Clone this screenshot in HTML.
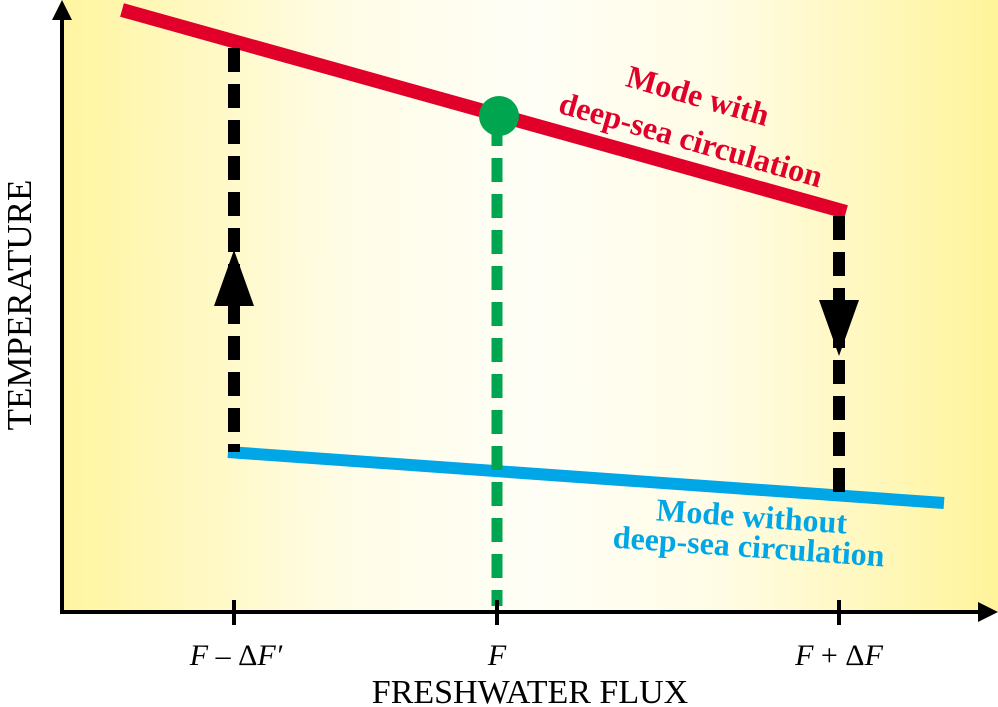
<!DOCTYPE html>
<html><head><style>body{margin:0;background:#fff}svg{display:block}</style></head><body>
<svg width="998" height="707" xmlns="http://www.w3.org/2000/svg">
<defs><linearGradient id="g" x1="0" x2="1"><stop offset="0" stop-color="#fff5a0"/><stop offset="0.3" stop-color="#fffce6"/><stop offset="0.5" stop-color="#fffef6"/><stop offset="0.7" stop-color="#fffce6"/><stop offset="1" stop-color="#fff49a"/></linearGradient></defs>
<rect x="62" y="0" width="936" height="612" fill="url(#g)"/>
<line x1="122" y1="10" x2="846" y2="212" stroke="#e0002a" stroke-width="14"/>
<line x1="228" y1="452" x2="944" y2="503" stroke="#00a6e6" stroke-width="12"/>
<line x1="234" y1="48" x2="234" y2="452" stroke="#000" stroke-width="12" stroke-dasharray="24,12"/>
<polygon points="234,250 254,306 214,306" fill="#000"/>
<line x1="839" y1="216" x2="839" y2="492" stroke="#000" stroke-width="12" stroke-dasharray="24,12"/>
<polygon points="839,356 819,300 859,300" fill="#000"/>
<line x1="497" y1="122" x2="497" y2="606" stroke="#00a550" stroke-width="11" stroke-dasharray="24,12"/>
<circle cx="499" cy="116" r="20" fill="#00a550"/>
<line x1="62" y1="612" x2="62" y2="18" stroke="#000" stroke-width="4"/>
<polygon points="62,0 52,20 72,20" fill="#000"/>
<line x1="60" y1="612" x2="982" y2="612" stroke="#000" stroke-width="4"/>
<polygon points="998,612 978,602 978,622" fill="#000"/>
<g stroke="#000" stroke-width="4"><line x1="234" y1="600" x2="234" y2="625"/><line x1="497" y1="600" x2="497" y2="625"/><line x1="839" y1="600" x2="839" y2="625"/></g>
<g font-family="Liberation Serif, serif" font-size="30" fill="#000">
<text x="236" y="665" text-anchor="middle"><tspan font-style="italic">F</tspan> – Δ<tspan font-style="italic">F′</tspan></text>
<text x="497" y="665" text-anchor="middle" font-style="italic">F</text>
<text x="839" y="665" text-anchor="middle"><tspan font-style="italic">F</tspan> + Δ<tspan font-style="italic">F</tspan></text>
<text x="530" y="703" text-anchor="middle" font-size="34">FRESHWATER FLUX</text>
<text transform="translate(31,305) rotate(-90)" text-anchor="middle" font-size="35">TEMPERATURE</text>
</g>
<g font-family="Liberation Serif, serif" font-weight="bold" font-size="32">
<text transform="translate(695,106) rotate(16)" text-anchor="middle" fill="#e0002a">Mode with</text>
<text transform="translate(688,150) rotate(16)" text-anchor="middle" fill="#e0002a">deep-sea circulation</text>
<text transform="translate(751,527) rotate(4)" text-anchor="middle" fill="#00a6e6">Mode without</text>
<text transform="translate(748,557) rotate(4)" text-anchor="middle" fill="#00a6e6">deep-sea circulation</text>
</g>
</svg>
</body></html>
